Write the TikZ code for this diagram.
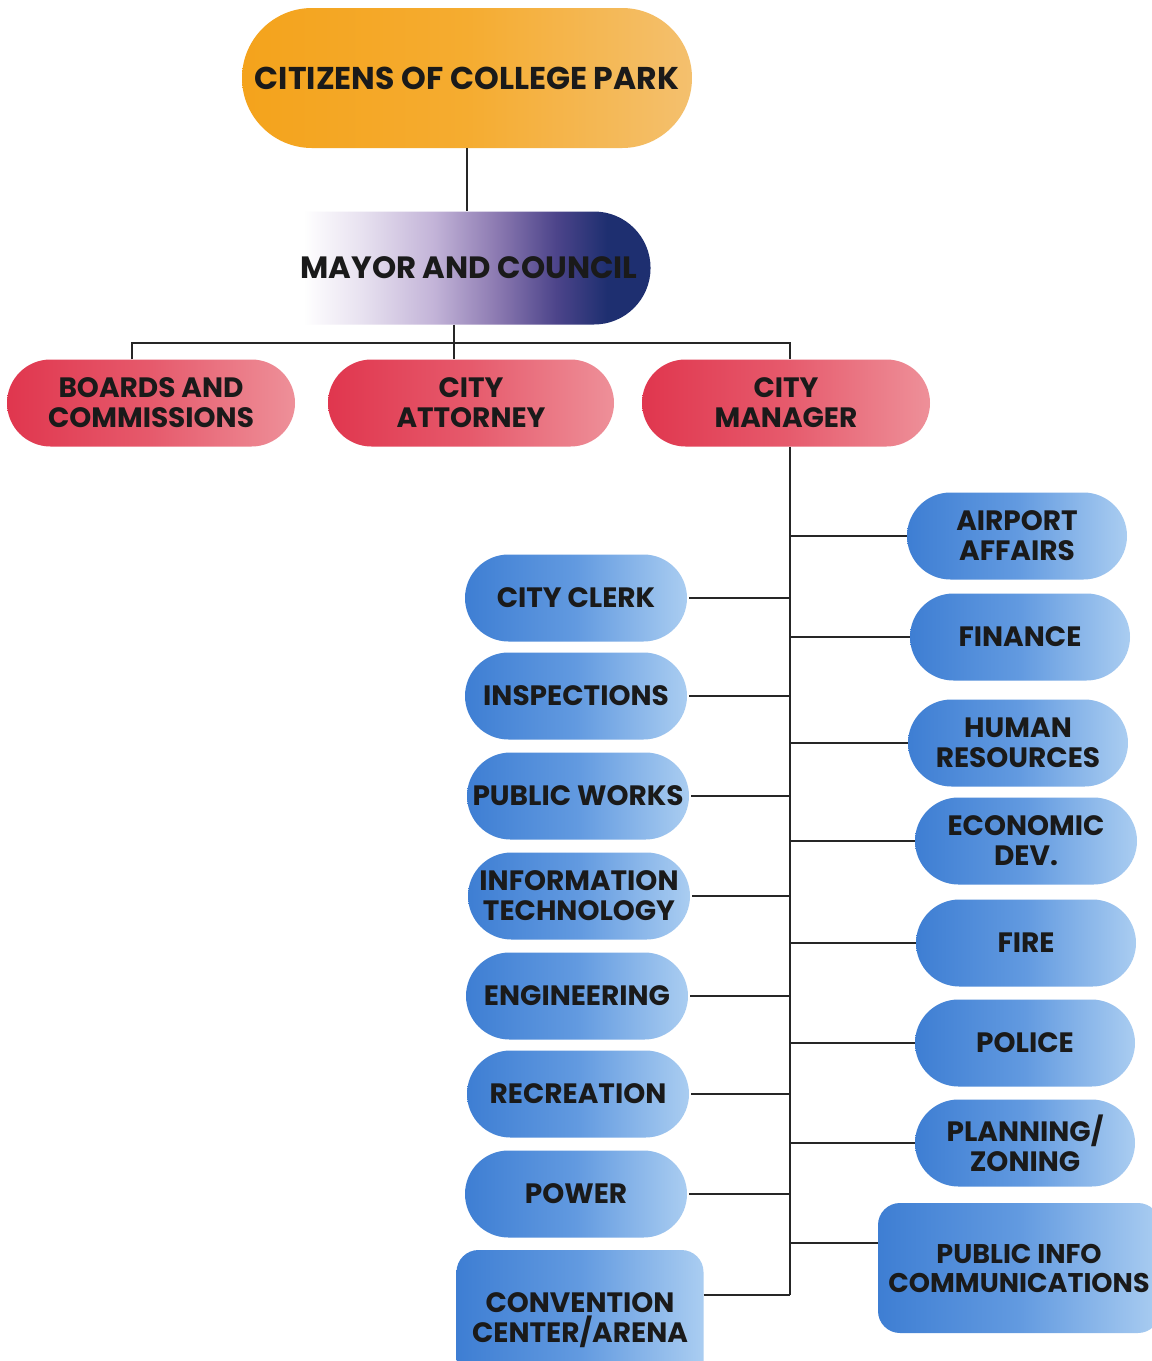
\documentclass[tikz,border=0pt]{standalone}
\usepackage{fontspec}
\setmainfont{Poppins}
\usetikzlibrary{shapes.misc}
\definecolor{orL}{HTML}{F4A31C}
\definecolor{orM}{HTML}{F5AC30}
\definecolor{orR}{HTML}{F4C06E}
\definecolor{rdL}{HTML}{E0364E}
\definecolor{rdM}{HTML}{E65A6C}
\definecolor{rdR}{HTML}{EE9099}
\definecolor{blL}{HTML}{3E7ED3}
\definecolor{blM}{HTML}{629AE0}
\definecolor{blR}{HTML}{AACDF1}
\definecolor{mv1}{HTML}{E8E2F0}
\definecolor{mv2}{HTML}{C3B4D8}
\definecolor{mv3}{HTML}{8A78B0}
\definecolor{mv4}{HTML}{4C448A}
\definecolor{mv5}{HTML}{1E2F70}
\definecolor{ink}{HTML}{1A1A1A}
\definecolor{wire}{HTML}{262626}
\pgfdeclarehorizontalshading{mayorshade}{100bp}{color(0bp)=(white); color(27bp)=(white); color(35bp)=(mv1); color(45bp)=(mv2); color(54bp)=(mv3); color(62bp)=(mv4); color(69bp)=(mv5); color(100bp)=(mv5)}
\newcommand{\chartfont}{\fontsize{28}{30}\selectfont\bfseries}
\tikzset{
  x=1pt, y=-1pt,
  pill/.style={rectangle, rounded corners=43.5pt, minimum height=87pt, inner sep=0pt,
    align=center, font=\chartfont, text=ink},
  bluepill/.style={pill, minimum width=222pt, left color=blL, right color=blR, middle color=blM},
  redpill/.style={pill, minimum width=288pt, left color=rdL, right color=rdR, middle color=rdM},
  bluebox/.style={rectangle, rounded corners=22pt, inner sep=0pt,
    align=center, font=\chartfont, text=ink, left color=blL, right color=blR, middle color=blM},
  wireline/.style={draw=wire, line width=1.8pt}
}
\begin{document}
\begin{tikzpicture}
\useasboundingbox (0,0) rectangle (1152,1361);
\fill[white] (0,0) rectangle (1152,1361);

% top
\node[pill, rounded corners=70pt, minimum width=450pt, minimum height=140pt,
  left color=orL, right color=orR, middle color=orM,
  font=\fontsize{31.5}{33}\selectfont\bfseries] (citizens) at (467,78) {CITIZENS OF COLLEGE PARK};
\node[rounded rectangle, rounded rectangle left arc=none, minimum width=362pt, minimum height=113pt,
  inner sep=0pt, shading=mayorshade, font=\fontsize{30.8}{32}\selectfont\bfseries, text=ink] (mayor) at (469,268) {MAYOR AND COUNCIL};

% second level
\node[redpill] (boards) at (151,403) {BOARDS AND\\COMMISSIONS};
\node[redpill, minimum width=286pt] (attorney) at (471,403) {CITY\\ATTORNEY};
\node[redpill] (manager) at (786,403) {CITY\\MANAGER};

% left column
\node[bluepill] (clerk) at (576,598) {CITY CLERK};
\node[bluepill] (inspections) at (576,696) {INSPECTIONS};
\node[bluepill] (works) at (578,796) {PUBLIC WORKS};
\node[bluepill] (it) at (579,896) {INFORMATION\\TECHNOLOGY};
\node[bluepill] (engineering) at (577,996) {ENGINEERING};
\node[bluepill] (recreation) at (578,1094) {RECREATION};
\node[bluepill] (power) at (576,1194) {POWER};
\node[bluebox, minimum width=247pt, minimum height=140pt] (convention) at (580,1320) {CONVENTION\\CENTER/ARENA};

% right column
\node[bluepill, minimum width=220pt] (airport) at (1017,536) {AIRPORT\\AFFAIRS};
\node[bluepill, minimum width=220pt] (finance) at (1020,637) {FINANCE};
\node[bluepill, minimum width=220pt] (hr) at (1018,743) {HUMAN\\RESOURCES};
\node[bluepill, minimum width=222pt] (econ) at (1026,841) {ECONOMIC\\DEV.};
\node[bluepill, minimum width=220pt] (fire) at (1026,943) {FIRE};
\node[bluepill, minimum width=220pt] (police) at (1025,1043) {POLICE};
\node[bluepill, minimum width=220pt] (planning) at (1025,1143) {PLANNING/\\ZONING};
\node[bluebox, minimum width=282pt, minimum height=130pt,
  font=\fontsize{27}{29}\selectfont\bfseries] (pubinfo) at (1019,1268) {PUBLIC INFO\\COMMUNICATIONS};

% connectors
\coordinate (busL) at (132,343);
\coordinate (busM) at (454,343);
\coordinate (busR) at (790,343);
\coordinate (trunkEnd) at (790,1295);
\draw[wireline] (citizens.south) -- (mayor.north -| citizens.south);
\draw[wireline] (mayor.south -| busM) -- (attorney.north -| busM);
\draw[wireline] (boards.north -| busL) -- (busL) -- (busR) -- (manager.north -| busR);
\draw[wireline] (manager.south -| busR) -- (trunkEnd);
\foreach \n in {clerk,inspections,works,it,engineering,recreation,power}
  \draw[wireline] ([xshift=2pt]\n.east) -- (\n.east -| trunkEnd);
\draw[wireline] ([yshift=25pt]convention.east) -- ([yshift=25pt]convention.east -| trunkEnd);
\foreach \n in {airport,finance,hr,econ,fire,police,planning}
  \draw[wireline] (\n.west) -- (\n.west -| trunkEnd);
\draw[wireline] ([yshift=25pt]pubinfo.west) -- ([yshift=25pt]pubinfo.west -| trunkEnd);
\end{tikzpicture}
\end{document}
